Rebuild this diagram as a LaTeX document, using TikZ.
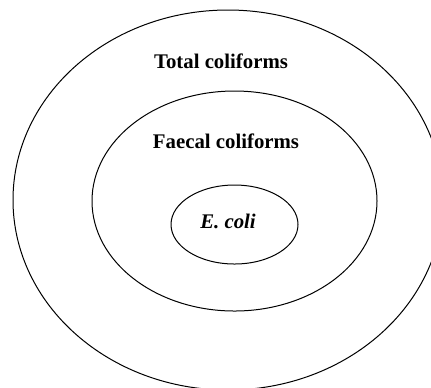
\documentclass[tikz,border=0pt]{standalone}
\usepackage{fontspec}
\setmainfont{Liberation Serif}

\begin{document}
\begin{tikzpicture}[x=0.5pt,y=-0.5pt,line width=0.5pt,
          lbl/.style={font=\fontsize{10.4}{12}\selectfont\bfseries, anchor=base}]
          \useasboundingbox (0,0) rectangle (431,387);
          \clip (0,0) rectangle (431,387);
          \draw (228,200) ellipse (107.5pt and 95pt);
          \draw (234.5,201) ellipse (71.25pt and 55pt);
          \draw (234.5,224.5) ellipse (31.75pt and 19.75pt);
          \node[lbl] (total) at (221,68) {Total coliforms};
          \node[lbl] (faecal) at (226,148) {Faecal coliforms};
          \node[lbl] (ecoli) at (228,228) {\itshape E. coli};
        \end{tikzpicture}
\end{document}
